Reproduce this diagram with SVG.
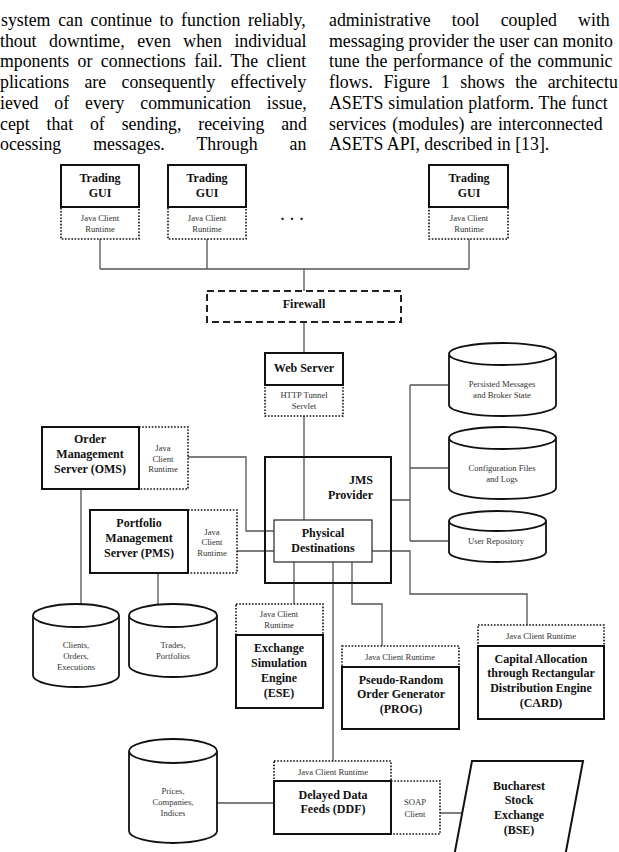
<svg xmlns="http://www.w3.org/2000/svg" width="619" height="852" viewBox="0 0 619 852">
<style>
.body{font-family:"Liberation Serif","Times New Roman",serif;font-size:17.8px;fill:#000}
.lbl{font-family:"Liberation Serif","Times New Roman",serif;font-size:12px;font-weight:bold;fill:#111;text-anchor:middle}
.sm{font-family:"Liberation Serif","Times New Roman",serif;font-size:8.6px;fill:#333;text-anchor:middle}
.solid{fill:#fff;stroke:#111;stroke-width:2}
.dot{fill:#fff;stroke:#111;stroke-width:1.6;stroke-dasharray:1.6 1.6}
.cyl{fill:#fff;stroke:#111;stroke-width:1.8}
.conn{fill:none;stroke:#555;stroke-width:1.3}
</style>
<rect width="619" height="852" fill="#fff"/>
<g id="body-text">
<text class="body" x="1" y="26" word-spacing="3.3">system can continue to function reliably,</text>
<text class="body" x="0" y="46.7" word-spacing="8.1">thout downtime, even when individual</text>
<text class="body" x="0" y="67.4" word-spacing="4">mponents or connections fail. The client</text>
<text class="body" x="0" y="88.1" word-spacing="10.9">plications are consequently effectively</text>
<text class="body" x="0" y="108.8" word-spacing="11.4">ieved of every communication issue,</text>
<text class="body" x="0" y="129.5" word-spacing="12.4">cept that of sending, receiving and</text>
<text class="body" x="0" y="150.2" word-spacing="27.5">ocessing messages. Through an</text>
<text class="body" x="329" y="26" word-spacing="16.7">administrative tool coupled with</text>
<text class="body" x="329" y="46.7" word-spacing="0">messaging provider the user can monito</text>
<text class="body" x="329" y="67.4" word-spacing="1.5">tune the performance of the communic</text>
<text class="body" x="329" y="88.1" word-spacing="6.2">flows. Figure 1 shows the architectu</text>
<text class="body" x="329" y="108.8" word-spacing="0.5">ASETS simulation platform. The funct</text>
<text class="body" x="329" y="129.5" word-spacing="1.5">services (modules) are interconnected</text>
<text class="body" x="329" y="150.2">ASETS API, described in [13].</text>
</g>
<g id="connectors">
<path class="conn" d="M100,239V269M207,239V269M469,239V269M100,269H469M304,269V291"/>
<path class="conn" d="M304,322V353M304,416V520"/>
<path class="conn" d="M188,457H246V531H274M237,551H274"/>
<path class="conn" d="M81,489V604M158,573V604"/>
<path class="conn" d="M391,500H410M410,385V541M410,385H449M410,468H449M410,541H449"/>
<path class="conn" d="M372,551H410V594H527V625"/>
<path class="conn" d="M294,562V604M333,562V761M352,562V604H382V646"/>
<path class="conn" d="M217,803H274M440,813H464"/>
</g>
<g id="gui1">
<rect class="dot" x="61" y="207" width="78" height="32"/>
<rect class="solid" x="61" y="165" width="78" height="42"/>
<text class="lbl" x="100" y="182">Trading</text><text class="lbl" x="100" y="197">GUI</text>
<text class="sm" x="100" y="221">Java Client</text><text class="sm" x="100" y="232">Runtime</text>
</g>
<g id="gui2">
<rect class="dot" x="168" y="207" width="78" height="32"/>
<rect class="solid" x="168" y="165" width="78" height="42"/>
<text class="lbl" x="207" y="182">Trading</text><text class="lbl" x="207" y="197">GUI</text>
<text class="sm" x="207" y="221">Java Client</text><text class="sm" x="207" y="232">Runtime</text>
</g>
<g id="gui-ellipsis">
<text class="lbl" x="295" y="220" style="font-size:14px" letter-spacing="6">...</text>
</g>
<g id="gui3">
<rect class="dot" x="429" y="207" width="79" height="32"/>
<rect class="solid" x="429" y="165" width="79" height="42"/>
<text class="lbl" x="469" y="182">Trading</text><text class="lbl" x="469" y="197">GUI</text>
<text class="sm" x="469" y="221">Java Client</text><text class="sm" x="469" y="232">Runtime</text>
</g>
<g id="firewall">
<rect x="207" y="291" width="194" height="31" fill="#fff" stroke="#222" stroke-width="2" stroke-dasharray="7 4"/>
<text class="lbl" x="304" y="308">Firewall</text>
</g>
<g id="webserver">
<rect class="dot" x="265" y="385" width="78" height="31"/>
<rect class="solid" x="265" y="353" width="78" height="32"/>
<text class="lbl" x="304" y="372">Web Server</text>
<text class="sm" x="304" y="398">HTTP Tunnel</text><text class="sm" x="304" y="409">Servlet</text>
</g>
<g id="jms">
<rect x="265" y="457" width="126" height="126" fill="none" stroke="#111" stroke-width="2"/>
<text class="lbl" x="373" y="484" style="text-anchor:end">JMS</text>
<text class="lbl" x="373" y="499" style="text-anchor:end">Provider</text>
</g>
<g id="physical-destinations">
<rect x="274" y="520" width="98" height="42" fill="#fff" stroke="#333" stroke-width="1.3"/>
<text class="lbl" x="323" y="537">Physical</text><text class="lbl" x="323" y="552">Destinations</text>
</g>
<g id="db-persisted">
<path class="cyl" d="M449,354A53.5,11 0 0,1 556,354A53.5,11 0 0,1 449,354ZM449,354V405A53.5,11 0 0,0 556,405V354"/>
<text class="sm" x="502" y="387">Persisted Messages</text><text class="sm" x="502" y="398">and Broker State</text>
</g>
<g id="db-config">
<path class="cyl" d="M449,438A53.5,11 0 0,1 556,438A53.5,11 0 0,1 449,438ZM449,438V488A53.5,11 0 0,0 556,488V438"/>
<text class="sm" x="502" y="471">Configuration Files</text><text class="sm" x="502" y="482">and Logs</text>
</g>
<g id="db-users">
<path class="cyl" d="M449,521A48.5,10 0 0,1 546,521A48.5,10 0 0,1 449,521ZM449,521V552A48.5,10 0 0,0 546,552V521"/>
<text class="sm" x="496" y="544">User Repository</text>
</g>
<g id="oms">
<rect class="dot" x="139" y="427" width="49" height="62"/>
<rect class="solid" x="42" y="427" width="97" height="62"/>
<text class="lbl" x="90" y="443">Order</text><text class="lbl" x="90" y="458">Management</text><text class="lbl" x="90" y="473">Server (OMS)</text>
<text class="sm" x="163" y="451">Java</text><text class="sm" x="163" y="462">Client</text><text class="sm" x="163" y="472">Runtime</text>
</g>
<g id="pms">
<rect class="dot" x="188" y="510" width="49" height="63"/>
<rect class="solid" x="90" y="510" width="98" height="63"/>
<text class="lbl" x="139" y="527">Portfolio</text><text class="lbl" x="139" y="542">Management</text><text class="lbl" x="139" y="557">Server (PMS)</text>
<text class="sm" x="212" y="535">Java</text><text class="sm" x="212" y="545">Client</text><text class="sm" x="212" y="556">Runtime</text>
</g>
<g id="db-clients">
<path class="cyl" d="M33,615.5A43,11.5 0 0,1 119,615.5A43,11.5 0 0,1 33,615.5ZM33,615.5V675.5A43,11.5 0 0,0 119,675.5V615.5"/>
<text class="sm" x="76" y="648">Clients,</text><text class="sm" x="76" y="659">Orders,</text><text class="sm" x="76" y="670">Executions</text>
</g>
<g id="db-trades">
<path class="cyl" d="M129,615.5A44,11.5 0 0,1 217,615.5A44,11.5 0 0,1 129,615.5ZM129,615.5V665.5A44,11.5 0 0,0 217,665.5V615.5"/>
<text class="sm" x="173" y="648">Trades,</text><text class="sm" x="173" y="659">Portfolios</text>
</g>
<g id="ese">
<rect class="dot" x="236" y="604" width="87" height="31"/>
<rect class="solid" x="236" y="635" width="87" height="73"/>
<text class="sm" x="279" y="617">Java Client</text><text class="sm" x="279" y="628">Runtime</text>
<text class="lbl" x="279" y="652">Exchange</text><text class="lbl" x="279" y="667">Simulation</text><text class="lbl" x="279" y="682">Engine</text><text class="lbl" x="279" y="697">(ESE)</text>
</g>
<g id="prog">
<rect class="dot" x="342" y="646" width="117" height="21"/>
<rect class="solid" x="342" y="667" width="117" height="62"/>
<text class="sm" x="400" y="660">Java Client Runtime</text>
<text class="lbl" x="401" y="684">Pseudo-Random</text><text class="lbl" x="401" y="698">Order Generator</text><text class="lbl" x="401" y="713">(PROG)</text>
</g>
<g id="card">
<rect class="dot" x="478" y="625" width="126" height="21"/>
<rect class="solid" x="478" y="646" width="126" height="73"/>
<text class="sm" x="541" y="639">Java Client Runtime</text>
<text class="lbl" x="541" y="663">Capital Allocation</text><text class="lbl" x="541" y="677">through Rectangular</text><text class="lbl" x="541" y="692">Distribution Engine</text><text class="lbl" x="541" y="707">(CARD)</text>
</g>
<g id="db-prices">
<path class="cyl" d="M129,751A44,12 0 0,1 217,751A44,12 0 0,1 129,751ZM129,751V831A44,12 0 0,0 217,831V751"/>
<text class="sm" x="173" y="794">Prices,</text><text class="sm" x="173" y="805">Companies,</text><text class="sm" x="173" y="816">Indices</text>
</g>
<g id="ddf">
<rect class="dot" x="274" y="761" width="117" height="20"/>
<rect class="dot" x="391" y="781" width="49" height="53"/>
<rect class="solid" x="274" y="781" width="117" height="53"/>
<text class="sm" x="333" y="775">Java Client Runtime</text>
<text class="lbl" x="333" y="799">Delayed Data</text><text class="lbl" x="333" y="813">Feeds (DDF)</text>
<text class="sm" x="415" y="805">SOAP</text><text class="sm" x="415" y="817">Client</text>
</g>
<g id="bse">
<path d="M472,761H583L564,862H453Z" fill="#fff" stroke="#111" stroke-width="2"/>
<text class="lbl" x="519" y="790">Bucharest</text><text class="lbl" x="519" y="804">Stock</text><text class="lbl" x="519" y="819">Exchange</text><text class="lbl" x="519" y="834">(BSE)</text>
</g>
</svg>
